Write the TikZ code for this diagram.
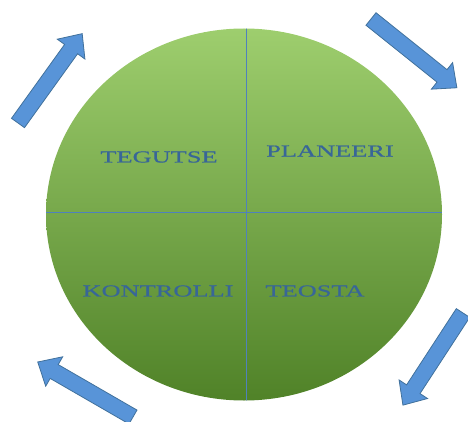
\documentclass[tikz,border=0pt]{standalone}
\usepackage{fontspec}
\newfontfamily\labfont[FakeStretch=1.57,FakeBold=0.7]{Liberation Serif}
\usetikzlibrary{shapes.geometric}
\definecolor{arrowfill}{RGB}{88,148,216}
\definecolor{arrowline}{RGB}{65,113,156}
\definecolor{gtop}{RGB}{158,206,110}
\definecolor{gmid}{RGB}{118,178,66}
\definecolor{gbot}{RGB}{80,130,40}
\definecolor{divline}{RGB}{79,129,189}
\definecolor{labcol}{RGB}{56,102,152}
\tikzset{
  blockarrow/.style={fill=arrowfill,draw=arrowline,line width=0.8pt,line join=miter},
  quadlabel/.style={text=labcol,font=\labfont\fontsize{16.8}{18}\selectfont,inner sep=0pt},
  divider/.style={draw=divline,line width=1pt}
}
% #1 tail x, #2 tail y, #3 angle, #4 length
\newcommand{\myblockarrow}[4]{%
  \begin{scope}[shift={(#1,#2)},rotate=#3]
    \path[blockarrow] (0,-8) -- (#4-19,-8) -- (#4-19,-17) -- (#4,0) -- (#4-19,17) -- (#4-19,8) -- (0,8) -- cycle;
  \end{scope}}
\begin{document}
\begin{tikzpicture}[x=1pt,y=1pt]
\useasboundingbox (0,0) rectangle (468,421);
\begin{scope}
\clip (0,0) rectangle (468,421);
\node[ellipse,minimum width=396pt,minimum height=372pt,inner sep=0pt,
      top color=gtop,middle color=gmid,bottom color=gbot] (circ) at (244,206.5) {};
\begin{scope}
  \clip (244,206.5) ellipse [x radius=198pt,y radius=186pt];
  \coordinate (hl) at (40,208.5);
  \coordinate (hr) at (450,208.5);
  \coordinate (vt) at (246,400);
  \coordinate (vb) at (246,15);
  \draw[divider] (hl) -- (hr);
  \draw[divider] (vt) -- (vb);
\end{scope}
\node[quadlabel] (tegutse) at (159,264) {TEGUTSE};
\node[quadlabel] (planeeri) at (330,270) {PLANEERI};
\node[quadlabel] (kontrolli) at (158,130) {KONTROLLI};
\node[quadlabel] (teosta) at (315,130) {TEOSTA};
\myblockarrow{18}{298}{54.3}{110}
\myblockarrow{371}{402}{-38.7}{110}
\myblockarrow{463}{108}{-123.1}{110}
\myblockarrow{133}{4}{150}{110}
\end{scope}
\end{tikzpicture}
\end{document}
